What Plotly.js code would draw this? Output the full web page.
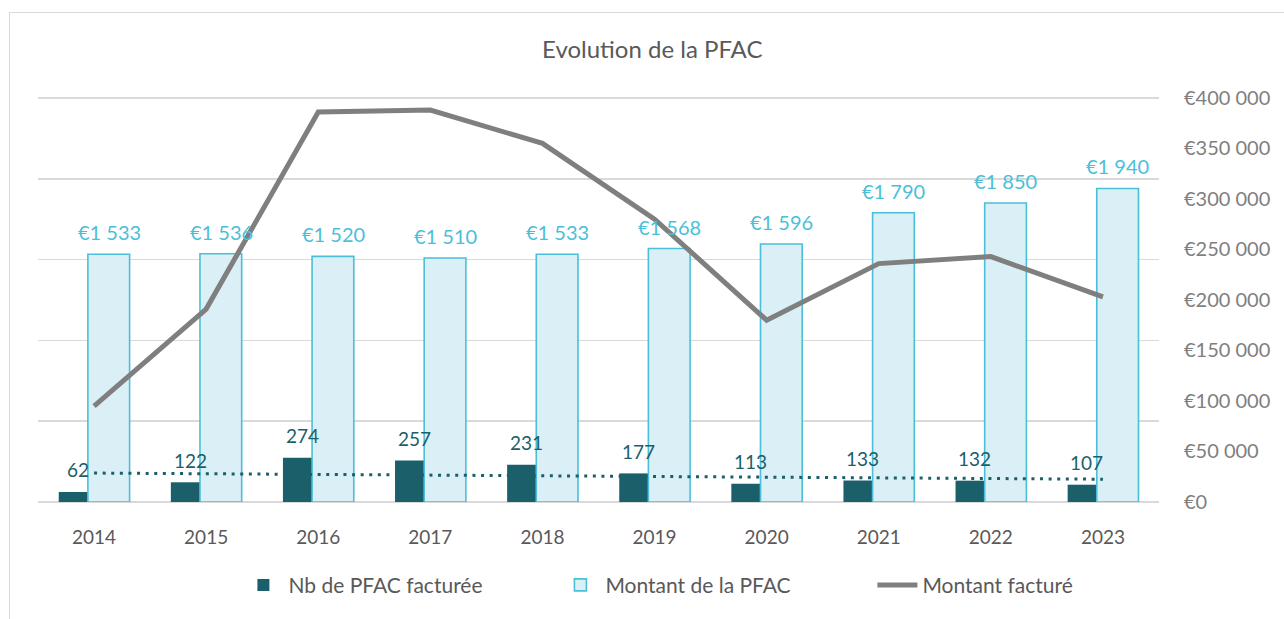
<!DOCTYPE html>
<html>
<head>
<meta charset="utf-8">
<script src="https://cdn.plot.ly/plotly-3.0.1.min.js"></script>
<style>
  html, body { margin: 0; padding: 0; background: #fff; overflow: hidden; }
  #wrap { position: relative; width: 1284px; height: 619px; overflow: hidden; }
  #chart { width: 1284px; height: 619px; }
  #frame { position: absolute; left: 9px; top: 12px; width: 1400px; height: 800px;
           border-left: 1.5px solid #d9d9d9; border-top: 1.5px solid #d9d9d9; pointer-events: none; }
</style>
</head>
<body>
<div id="wrap">
  <div id="chart"></div>
  <div id="frame"></div>
</div>
<script>
// ---- data ----
const years = ["2014", "2015", "2016", "2017", "2018", "2019", "2020", "2021", "2022", "2023"];
const nbPFAC = [62, 122, 274, 257, 231, 177, 113, 133, 132, 107];
const montantPFAC = [1533, 1536, 1520, 1510, 1533, 1568, 1596, 1790, 1850, 1940];
const montantFacture = [95000, 191000, 386000, 388000, 355000, 280000, 180000, 236000, 243000, 203000];
// linear trendline of Nb de PFAC (end points)
const trendYears = ["2014", "2023"];
const trendNb = [179, 141];
// right-axis tick labels
const rightTickVals = [0, 50000, 100000, 150000, 200000, 250000, 300000, 350000, 400000];
const rightTickText = ["€0", "€50 000", "€100 000", "€150 000", "€200 000", "€250 000", "€300 000", "€350 000", "€400 000"];
// left (hidden) axis gridline values
const leftTickVals = [0, 500, 1000, 1500, 2000, 2500];
// data-label texts
const montantLabels = ["€1 533", "€1 536", "€1 520", "€1 510", "€1 533", "€1 568", "€1 596", "€1 790", "€1 850", "€1 940"];

const FONT = "Lato, 'Open Sans', sans-serif";
const DARK = "#1b5f6b";
const CYAN = "#4bbfd9";
const LIGHT = "#daeff6";
const GRAY = "#7f7f7f";
const GRID = "#d9d9d9";

const traces = [
  {
    type: "bar", name: "Nb de PFAC facturée", x: years, y: nbPFAC,
    width: 0.26, offset: -0.315,
    marker: { color: DARK, line: { width: 0 } },
    hoverinfo: "skip"
  },
  {
    type: "bar", name: "Montant de la PFAC", x: years, y: montantPFAC,
    width: 0.372, offset: -0.055,
    marker: { color: LIGHT, line: { color: CYAN, width: 1.6 } },
    hoverinfo: "skip"
  },
  {
    type: "scatter", mode: "lines", name: "Tendance", x: trendYears, y: trendNb,
    line: { color: DARK, width: 3, dash: "3px,5.6px" },
    showlegend: false, hoverinfo: "skip"
  },
  {
    type: "scatter", mode: "lines", name: "Montant facturé", x: years, y: montantFacture,
    yaxis: "y2",
    line: { color: GRAY, width: 5 },
    hoverinfo: "skip"
  }
];

// data labels; x given as category index (position on the category axis)
const annotations = [];
years.forEach((yr, i) => {
  annotations.push({
    x: i, y: montantPFAC[i], xref: "x", yref: "y",
    text: montantLabels[i], showarrow: false,
    xshift: 15, yshift: 22, yanchor: "middle",
    font: { family: FONT, size: 20, color: CYAN }
  });
  annotations.push({
    x: i, y: nbPFAC[i], xref: "x", yref: "y",
    text: String(nbPFAC[i]), showarrow: false,
    xshift: -16, yshift: 22, yanchor: "middle",
    font: { family: FONT, size: 19, color: DARK }
  });
});

const layout = {
  width: 1284, height: 619,
  margin: { l: 38, r: 125, t: 96, b: 117, autoexpand: false },
  paper_bgcolor: "#ffffff", plot_bgcolor: "#ffffff",
  font: { family: FONT, color: "#595959" },
  title: {
    text: "Evolution de la PFAC",
    x: 0.508, xref: "container", xanchor: "center",
    y: 1 - 50 / 619, yref: "container", yanchor: "middle",
    font: { family: FONT, size: 24, color: "#595959" }
  },
  barmode: "overlay",
  showlegend: true,
  legend: {
    orientation: "h",
    x: 0.556, xref: "container", xanchor: "center",
    y: -0.205, yanchor: "middle",
    font: { family: FONT, size: 21, color: "#595959" },
    traceorder: "normal",
    itemwidth: 40,
    entrywidth: 262, entrywidthmode: "pixels"
  },
  xaxis: {
    type: "category",
    categoryorder: "array", categoryarray: years,
    range: [-0.5, 9.5],
    showgrid: false, zeroline: false, showline: false,
    ticks: "", ticklabelstandoff: 22,
    tickfont: { family: FONT, size: 19, color: "#595959" },
    automargin: false,
    fixedrange: true
  },
  yaxis: {
    range: [0, 2512], tickmode: "array", tickvals: leftTickVals,
    showticklabels: false, ticks: "",
    showgrid: true, gridcolor: GRID, gridwidth: 1.5,
    zeroline: true, zerolinecolor: GRID, zerolinewidth: 1.5,
    showline: false,
    automargin: false,
    fixedrange: true
  },
  yaxis2: {
    overlaying: "y", side: "right",
    range: [0, 401920],
    tickmode: "array", tickvals: rightTickVals, ticktext: rightTickText,
    showgrid: false, zeroline: false, showline: false,
    ticks: "", ticklabelstandoff: 24,
    tickfont: { family: FONT, size: 20, color: GRAY },
    automargin: false,
    fixedrange: true
  },
  annotations: annotations,
  hovermode: false
};

Plotly.newPlot("chart", traces, layout, { displayModeBar: false, staticPlot: true });
</script>
</body>
</html>
